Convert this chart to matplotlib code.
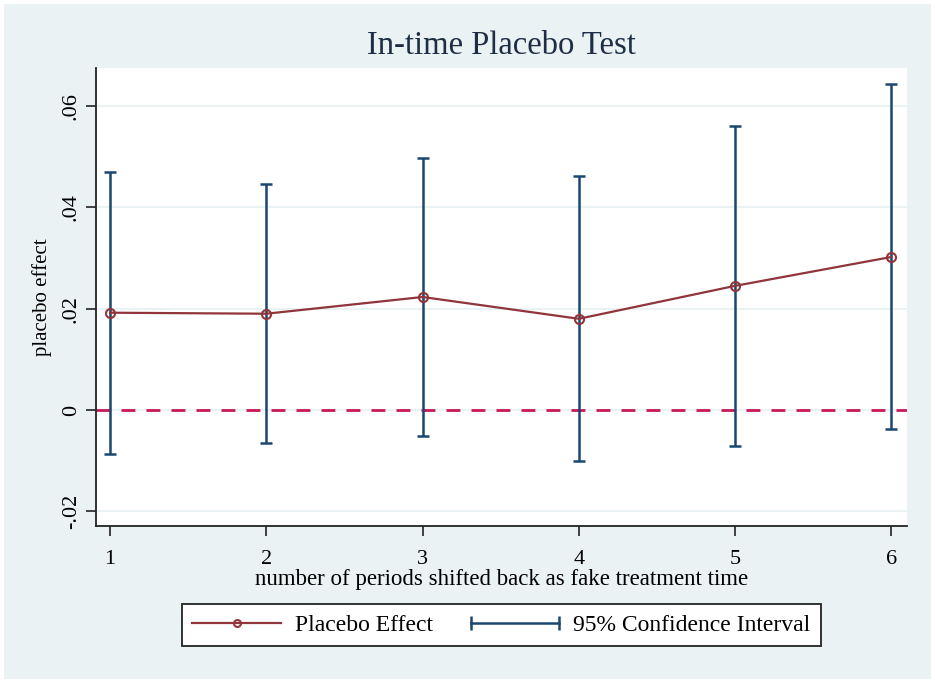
import numpy as np
import matplotlib.pyplot as plt
from matplotlib.patches import Rectangle
from matplotlib.lines import Line2D
from matplotlib.legend_handler import HandlerLine2D

# values
periods = [1, 2, 3, 4, 5, 6]
effect = [0.0192, 0.0190, 0.0223, 0.0180, 0.0245, 0.0302]
ci_low = [-0.0087, -0.0065, -0.0051, -0.0101, -0.0071, -0.0037]
ci_high = [0.0470, 0.0446, 0.0497, 0.0462, 0.0560, 0.0643]
yticks = [-0.02, 0, 0.02, 0.04, 0.06]
ytick_labels = ['-.02', '0', '.02', '.04', '.06']

bg = '#EAF2F3'
navy = '#1A476F'
maroon = '#90353B'
crimson = '#C8185A'

plt.rcParams['font.family'] = ['Liberation Serif', 'DejaVu Serif']

fig = plt.figure(figsize=(9.35, 6.83), dpi=100)
fig.patch.set_facecolor('white')
fig.add_artist(Rectangle((4 / 935, 4 / 683), 927 / 935, 675 / 683,
                         transform=fig.transFigure, facecolor=bg,
                         edgecolor='none', zorder=-10))

ax = fig.add_axes([96 / 935, 1 - 526 / 683, 811 / 935, 458 / 683])
ax.set_facecolor('white')

for y in yticks:
    ax.axhline(y, color=bg, lw=1.5, zorder=0)

ax.axhline(0, color=crimson, lw=2, ls=(0, (5, 4)), zorder=1)

ax.errorbar(periods, effect,
            yerr=[np.array(effect) - np.array(ci_low), np.array(ci_high) - np.array(effect)],
            fmt='none', ecolor=navy, elinewidth=1.8, capsize=4, capthick=1.8, zorder=2)
ax.plot(periods, effect, color=maroon, lw=1.6, marker='o', ms=6.5,
        mfc='none', mec=maroon, mew=1.5, zorder=3)

ax.set_xlim(0.91, 6.10)
ax.set_ylim(-0.0229, 0.0675)
ax.set_xticks(periods)
ax.set_yticks(yticks)
ax.set_yticklabels(ytick_labels, rotation=90, va='center')
ax.tick_params(axis='both', labelsize=16, length=7, width=1.2, color='#222222')
ax.tick_params(axis='x', pad=10)
ax.tick_params(axis='y', pad=4)

for s in ['top', 'right']:
    ax.spines[s].set_visible(False)
for s in ['left', 'bottom']:
    ax.spines[s].set_linewidth(1.3)
    ax.spines[s].set_color('#222222')

ax.set_xlabel('number of periods shifted back as fake treatment time', fontsize=16.5, labelpad=0)
ax.set_ylabel('placebo effect', fontsize=15, labelpad=7)
fig.text(501 / 935, 1 - 46 / 683, 'In-time Placebo Test', ha='center', va='center',
         fontsize=23.5, color='#1E2F45')

h_eff = Line2D([0], [0], color=maroon, lw=1.6, marker='o', ms=5,
               mfc='none', mec=maroon, mew=1.5)
h_ci = Line2D([0], [0], color=navy, lw=1.8, marker='|', ms=10, mew=1.8)
leg = fig.legend([h_eff, h_ci], ['Placebo Effect', '95% Confidence Interval'],
                 loc='center', bbox_to_anchor=(501.5 / 935, 1 - 625 / 683),
                 ncol=2, fontsize=17, frameon=True, fancybox=False,
                 handlelength=3.75, handletextpad=0.6, columnspacing=1.6,
                 borderpad=0.45, borderaxespad=0,
                 handler_map={h_ci: HandlerLine2D(numpoints=2, marker_pad=0)})
leg.get_frame().set_edgecolor('#222222')
leg.get_frame().set_linewidth(1.3)
leg.get_frame().set_facecolor('white')
leg.get_frame().set_alpha(1)

fig.savefig('out.png', dpi=100, facecolor=fig.get_facecolor())
